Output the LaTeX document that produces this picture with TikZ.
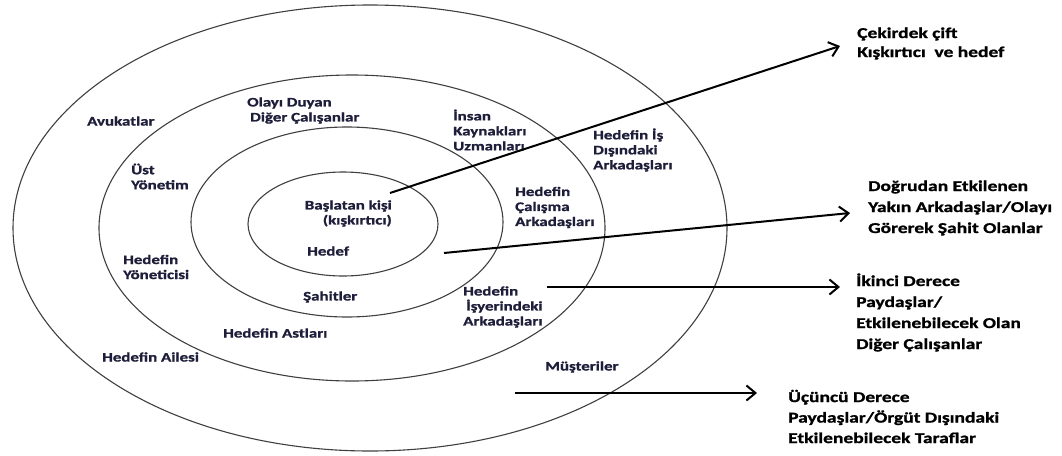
\documentclass[tikz,border=0pt]{standalone}
\usepackage{fontspec}
\usetikzlibrary{arrows.meta}
\newfontfamily\lblfont[FakeStretch=1.3, FakeBold=1.2, UprightFont={Carlito Bold}, BoldFont={Carlito Bold}]{Carlito}
\definecolor{ink}{RGB}{30,30,58}

\begin{document}
\begin{tikzpicture}[x=1pt, y=-1pt,
  ring/.style = {draw=black!75, line width=1.1pt},
  lbl/.style = {inner sep=0pt, anchor=west, align=left, text=ink,
    font=\lblfont\fontsize{13}{15}\selectfont},
  side/.style = {lbl, text=black, font=\lblfont\fontsize{15}{21}\selectfont},
  arr/.style = {line width=2pt, -{Straight Barb[length=9pt,width=15pt]}}]
\path[fill=white, use as bounding box] (0,0) rectangle (1062,455);
% the four rings
\draw[ring] (370,228) ellipse [x radius=357pt, y radius=223pt];
\draw[ring] (352,228) ellipse [x radius=253pt, y radius=153pt];
\draw[ring] (347,222) ellipse [x radius=156pt, y radius=95pt];
\draw[ring] (343,224) ellipse [x radius=95pt, y radius=52pt];
% labels inside the rings
\node[lbl] (olay) at (247,110.5) {Olayı Duyan\\\hspace*{3pt}Diğer Çalışanlar};
\node[lbl] (avuk) at (87,121) {Avukatlar};
\node[lbl] (ust) at (131,176.5) {Üst\\Yönetim};
\node[lbl, anchor=east, align=right] (basl) at (392,213.5) {Başlatan kişi\\(kışkırtıcı)};
\node[lbl] (hedef) at (307,251) {Hedef};
\node[lbl] (sahit) at (303,297) {Şahitler};
\node[lbl] (yonet) at (123,267) {Hedefin\\Yöneticisi};
\node[lbl] (astlar) at (223,333) {Hedefin Astları};
\node[lbl] (aile) at (102,357) {Hedefin Ailesi};
\node[lbl] (insan) at (453,130) {İnsan\\Kaynakları\\Uzmanları};
\node[lbl] (disinda) at (593,150) {Hedefin İş\\Dışındaki\\Arkadaşları};
\node[lbl] (calisma) at (515,207.5) {Hedefin\\Çalışma\\Arkadaşları};
\node[lbl] (isyeri) at (463,307) {Hedefin\\\hspace*{3pt}İşyerindeki\\Arkadaşları};
\node[lbl] (muster) at (545,367) {Müşteriler};
% labels on the right
\node[side, font=\lblfont\fontsize{15}{19}\selectfont] (core) at (857,43.5) {Çekirdek çift\\Kışkırtıcı\ \ ve hedef};
\node[side] (direct) at (868,208) {Doğrudan Etkilenen\\Yakın Arkadaşlar/Olayı\\Görerek Şahit Olanlar};
\node[side] (second) at (856,312.5) {İkinci Derece\\Paydaşlar/\\Etkilenebilecek Olan\\Diğer Çalışanlar};
\node[side, font=\lblfont\fontsize{15}{20.5}\selectfont] (third) at (788,416.5) {Üçüncü Derece\\Paydaşlar/Örgüt Dışındaki\\Etkilenebilecek Taraflar};
% arrows
\coordinate (s1) at (390,193);
\coordinate (t1) at (840,46);
\coordinate (s2) at (444,253);
\coordinate (t2) at (850,213);
\coordinate (s3) at (547,287);
\coordinate (t3) at (840,287);
\coordinate (s4) at (515,393);
\coordinate (t4) at (757,393);
\draw[arr] (s1) -- (t1);
\draw[arr] (s2) -- (t2);
\draw[arr] (s3) -- (t3);
\draw[arr] (s4) -- (t4);
\end{tikzpicture}
\end{document}
